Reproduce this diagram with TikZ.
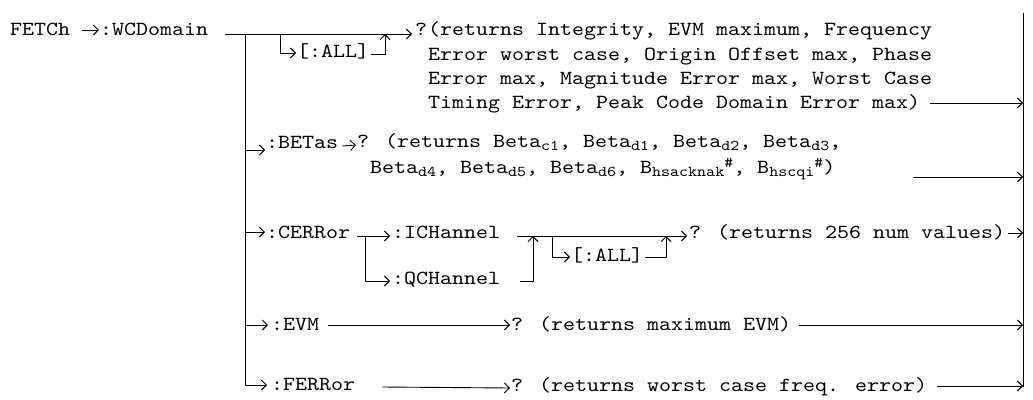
\documentclass[tikz,border=0pt]{standalone}
\usepackage{fontspec}
\setmainfont{lmmono10-regular.otf}[FakeStretch=1.143]
\usetikzlibrary{arrows.meta,calc}
\newcommand\lsb[1]{\raisebox{-3pt}{\fontsize{15}{15}\selectfont #1}}
\newcommand\lsp[1]{\raisebox{6pt}{\fontsize{15}{15}\selectfont #1}}
\begin{document}
\begin{tikzpicture}[x=1pt,y=-1pt,
  lbl/.style={inner sep=0pt, anchor=base west, font=\fontsize{20}{24}\selectfont},
  ln/.style={line width=0.9pt},
  arr/.style={ln, -{Straight Barb[length=5pt,width=10pt]}}]
\useasboundingbox (0,0) rectangle (1033,399);
% ---- nodes
\node[lbl] (fetch) at (10,35) {FETCh};
\node[lbl] (wcd) at (100,35) {:WCDomain};
\node[lbl] (all1) at (297,57) {[:ALL]};
\node[lbl] (q1) at (415,35) {?};
\node[lbl] (t1a) at (428,35) {(returns Integrity, EVM maximum, Frequency};
\node[lbl] (t1b) at (428,60) {Error worst case, Origin Offset max, Phase};
\node[lbl] (t1c) at (428,84) {Error max, Magnitude Error max, Worst Case};
\node[lbl] (t1d) at (428,108) {Timing Error, Peak Code Domain Error max)};
\node[lbl] (betas) at (266,148) {:BETas};
\node[lbl] (q2) at (357,147) {? (returns Beta\lsb{c1}, Beta\lsb{d1}, Beta\lsb{d2}, Beta\lsb{d3},};
\node[lbl] (b2) at (370,173) {Beta\lsb{d4}, Beta\lsb{d5}, Beta\lsb{d6}, B\lsb{hsacknak}\lsp{\#}, B\lsb{hscqi}\lsp{\#})};
\node[lbl] (cerr) at (266,238) {:CERRor};
\node[lbl] (ich) at (392,238) {:ICHannel};
\node[lbl] (qch) at (392,284) {:QCHannel};
\node[lbl] (all3) at (571,261) {[:ALL]};
\node[lbl] (q3) at (689,238) {? (returns 256 num values)};
\node[lbl] (evm) at (271,330) {:EVM};
\node[lbl] (q4) at (511,330) {? (returns maximum EVM)};
\node[lbl] (ferr) at (271,390) {:FERRor};
\node[lbl] (q5) at (511,391) {? (returns worst case freq. error)};
% ---- junction coordinates
\coordinate (tT) at (245,34);
\coordinate (tB) at (245,385);
\coordinate (a1) at (280,34);
\coordinate (u1) at (385,34);
\coordinate (cv) at (365,236);
\coordinate (u2) at (533,236);
\coordinate (a3) at (552,236);
\coordinate (u3) at (666,236);
\coordinate (Rt) at (1023,13);
\coordinate (Rb) at (1023,387);
\coordinate (R1) at (1023,103);
\coordinate (R2) at (1023,177);
\coordinate (R3) at (1023,233);
\coordinate (R4) at (1023,325);
\coordinate (R5) at (1023,386);
% ---- connectors
\draw[arr] ($(fetch.base east)+(12,-5)$) -- ($(wcd.base west)+(-1,-5)$);
\draw[arr] ($(wcd.base east)+(17,-1)$) -- ($(q1.base west)+(-3,-1)$);
\draw[ln] (tT) -- (tB);
\draw[arr] (a1) |- ($(all1.base west)+(-1,-4)$);
\draw[arr] ($(all1.base east)+(2,-3)$) -| (u1);
\draw[arr] ($(t1d.base east)+(10,-5)$) -- (R1);
\draw[arr] (245,150) -- ($(betas.base west)+(-1,2)$);
\draw[arr] ($(betas.base east)+(4,-2)$) -- ($(q2.base west)+(-1,-2)$);
\draw[arr] ($(b2.base east)+(78,4)$) -- (R2);
\draw[arr] (245,232) -- ($(cerr.base west)+(-1,-6)$);
\draw[arr] ($(cerr.base east)+(7,-2)$) -- ($(ich.base west)+(-2,-2)$);
\draw[arr] (cv) |- ($(qch.base west)+(-2,-3)$);
\draw[arr] ($(ich.base east)+(17,-2)$) -- ($(q3.base west)+(-2,-2)$);
\draw[arr] ($(qch.base east)+(20,-3)$) -| (u2);
\draw[arr] (a3) |- ($(all3.base west)+(-1,-4)$);
\draw[arr] ($(all3.base east)+(2,-4)$) -| (u3);
\draw[arr] ($(q3.base east)+(3,-5)$) -- (R3);
\draw[arr] (245,325) -- ($(evm.base west)+(-3,-5)$);
\draw[arr] ($(evm.base east)+(9,-5)$) -- ($(q4.base west)+(-1,-5)$);
\draw[arr] ($(q4.base east)+(8,-5)$) -- (R4);
\draw[arr] (tB) -- ($(ferr.base west)+(-4,-5)$);
\draw[arr] ($(ferr.base east)+(27,-3)$) -- ($(q5.base west)+(-1,-3)$);
\draw[arr] ($(q5.base east)+(10,-5)$) -- (R5);
\draw[ln] (Rt) -- (Rb);
\end{tikzpicture}
\end{document}
